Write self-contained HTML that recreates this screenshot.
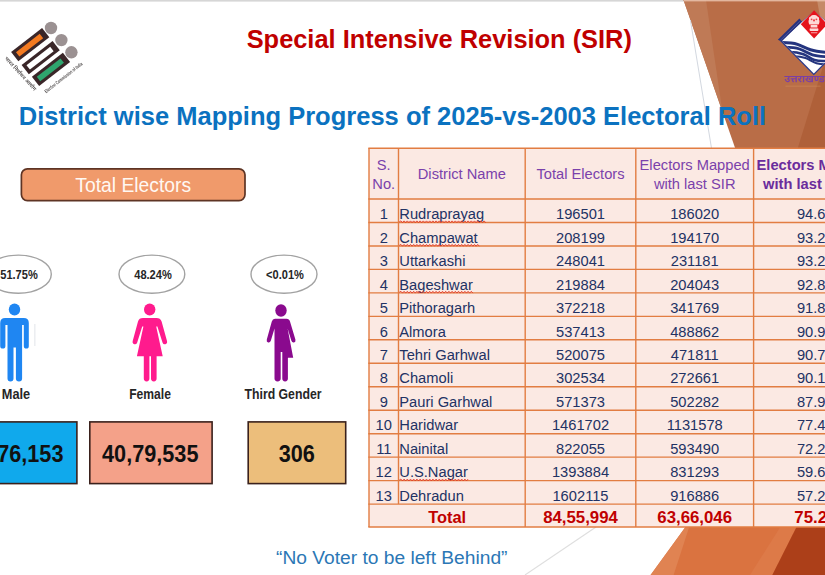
<!DOCTYPE html>
<html><head><meta charset="utf-8">
<style>
html,body{margin:0;padding:0;}
body{width:825px;height:575px;overflow:hidden;background:#fff;position:relative;font-family:"Liberation Sans",sans-serif;}
.abs{position:absolute;}
#title{left:246.7px;top:24.3px;font-weight:bold;font-size:25.4px;color:#c00000;white-space:nowrap;line-height:30px;}
#sub{left:18.8px;top:101.2px;font-weight:bold;font-size:25.52px;color:#0b72c0;white-space:nowrap;line-height:30px;}
#te{left:20.6px;top:168px;width:225.2px;height:33.4px;color:#fff8f2;font-size:19.3px;text-align:center;line-height:36px;}
.oval{width:64.6px;height:37px;border:1.3px solid #999;border-radius:50%;background:#fff;}
.pct{font-size:12.5px;font-weight:bold;color:#262626;text-align:center;width:80px;line-height:14px;transform:scaleX(0.885);white-space:nowrap;}
.lab{font-size:14px;font-weight:bold;color:#262626;text-align:center;width:120px;line-height:16px;white-space:nowrap;}
.box{font-weight:bold;font-size:23.2px;color:#111;text-align:center;line-height:68.5px;height:64px;transform:scaleX(0.935);}
#foot{left:276px;top:545.5px;font-size:19.2px;color:#2b77b5;white-space:nowrap;line-height:24px;}
</style></head><body>
<svg id="bg" class="abs" style="left:0;top:0" width="825" height="575" viewBox="0 0 825 575">
  <rect x="0" y="0" width="825" height="1.6" fill="#d6d6d6"/>
  <!-- top-right brown -->
  <polygon points="683.5,0 825,0 825,150 735.8,150" fill="#b96d47"/>
  <polygon points="683.5,0 706,0 722.5,112" fill="#bf7a56"/>
  <polygon points="817,0 825,0 825,45" fill="#c58a68"/>
  <polygon points="825,60 825,150 797.2,150" fill="#af6039"/>
  <line x1="690.4" y1="20" x2="711.8" y2="150" stroke="#d3d8e0" stroke-width="1"/>
  <!-- bottom-right orange -->
  <polygon points="686.2,526 825,526 825,575 650.6,575" fill="#da7340"/>
  <polygon points="686.2,526 689.5,526 673.6,575 650.6,575" fill="#e08352"/>
  <polygon points="781,526 797,526 772.3,575 750,575" fill="#dd7a48"/>
  <polygon points="797,526 825,526 825,575 772.3,575" fill="#ac3f19"/>
  <line x1="596" y1="527" x2="525" y2="575" stroke="#dedede" stroke-width="1.1"/>
  <rect x="684" y="0" width="141" height="1.4" fill="#e9c3ae" opacity="0.85"/>
  <!-- shapes -->
  <rect x="21.4" y="168.8" width="223.6" height="31.8" rx="6" fill="#f09a6b" stroke="#5e3424" stroke-width="1.7"/>
  <g fill="#fff" stroke="#a2a2a2" stroke-width="1.4">
    <ellipse cx="18.4" cy="274.2" rx="32.9" ry="19.1"/>
    <ellipse cx="151.9" cy="274.2" rx="32.9" ry="19.1"/>
    <ellipse cx="284" cy="274.2" rx="33" ry="19.1"/>
  </g>
  <g stroke="#3a211c" stroke-width="1.6">
    <rect x="-46" y="421.9" width="122.9" height="61.7" fill="#10a9ec"/>
    <rect x="89.8" y="421.9" width="122.3" height="61.7" fill="#f4a189"/>
    <rect x="248.2" y="421.9" width="97.5" height="61.7" fill="#ecbe7b"/>
  </g>
</svg>

<!-- ECI logo -->
<svg class="abs" style="left:0;top:15px" width="100" height="90" viewBox="0 15 100 90" font-family="Liberation Sans, sans-serif">
  <g transform="rotate(-37.8 30.2 44.7)">
    <rect x="10.6" y="38.8" width="39.2" height="11.8" fill="#3a2628"/>
    <rect x="14.4" y="41.9" width="30" height="5.6" fill="#f47a20"/>
  </g>
  <g transform="rotate(-37.8 40.7 57.7)">
    <rect x="21.1" y="51.8" width="39.2" height="11.8" fill="#3a2628"/>
    <rect x="24.9" y="54.9" width="30" height="5.6" fill="#ffffff"/>
  </g>
  <g transform="rotate(-37.8 51 69.3)">
    <rect x="31.4" y="63.4" width="39.2" height="11.8" fill="#3a2628"/>
    <rect x="35.2" y="66.5" width="30" height="5.6" fill="#2fa56e"/>
  </g>
  <circle cx="51" cy="28" r="6.2" fill="#9b9192"/>
  <circle cx="61.4" cy="40.1" r="6.2" fill="#9b9192"/>
  <circle cx="71.4" cy="52.3" r="6.2" fill="#9b9192"/>
  <path transform="translate(7.9 55.6) rotate(47.6) scale(0.02608)" fill="#5e5a5a" d="M1,70 0,84 5,95 11,100 25,105 33,105 35,88 29,87 24,83 24,75 29,71 35,71 42,76 44,84 44,114 30,117 27,122 27,130 33,141 44,151 54,155 63,154 69,147 71,136 104,137 104,179 131,179 132,76 161,76 163,78 163,179 190,179 190,77 251,76 254,79 255,94 252,102 244,108 240,104 233,101 221,101 216,104 213,109 213,119 218,131 231,148 268,183 287,166 250,134 266,125 276,115 282,98 280,77 373,76 375,78 374,99 341,99 327,101 313,107 306,114 303,120 301,136 305,153 313,166 329,184 349,168 333,151 328,139 330,128 336,123 342,121 374,121 375,179 402,179 402,77 420,76 420,55 84,55 84,76 102,76 104,78 103,114 70,113 70,85 68,75 64,66 54,57 40,53 21,54 9,59ZM1686,55 1541,55 1533,32 1523,13 1516,6 1506,1 1487,0 1471,4 1478,25 1487,22 1497,22 1503,25 1510,34 1517,52 1516,55 1260,55 1260,76 1272,77 1272,105 1264,108 1247,109 1237,107 1243,100 1247,89 1246,74 1241,64 1228,55 1219,53 1203,53 1183,58 1177,62 1184,81 1202,75 1212,75 1219,79 1221,83 1219,92 1209,98 1195,100 1198,120 1217,117 1221,121 1225,131 1223,140 1218,145 1212,147 1206,147 1196,143 1185,131 1171,102 1151,113 1161,135 1171,150 1186,163 1205,169 1220,169 1235,164 1245,155 1248,149 1250,130 1271,128 1272,179 1299,179 1299,78 1301,76 1330,76 1331,179 1358,179 1358,78 1360,76 1399,76 1403,80 1406,88 1404,97 1394,104 1379,108 1383,124 1392,140 1403,150 1419,156 1436,157 1447,155 1457,150 1458,179 1485,179 1485,77 1515,76 1517,78 1517,179 1544,179 1544,77 1581,76 1583,78 1583,106 1573,108 1568,112 1567,124 1571,133 1581,144 1590,149 1600,150 1607,145 1610,135 1610,77 1639,76 1640,179 1667,179 1667,78 1669,76 1686,76ZM1457,76 1458,123 1448,131 1438,135 1424,135 1416,131 1409,121 1423,114 1429,108 1432,101 1433,93 1428,77ZM470,55 470,76 484,76 486,78 486,179 513,179 514,76 607,76 609,78 608,105 547,105 540,107 535,115 536,124 541,134 553,145 560,148 570,148 576,143 579,127 608,127 609,179 636,179 637,76 729,77 729,127 722,134 710,139 698,139 691,136 686,129 686,122 693,114 699,112 720,113 722,92 698,90 679,94 665,104 659,120 659,131 663,143 671,152 680,157 689,160 707,161 718,159 728,154 729,179 756,179 756,78 758,76 788,77 788,179 815,179 815,78 817,76 925,76 927,78 927,126 913,138 907,140 896,140 891,138 885,131 885,123 890,116 896,113 911,113 913,91 839,91 839,113 864,114 858,125 859,140 864,149 876,158 885,161 903,162 918,159 926,155 927,179 953,179 953,78 955,76 1048,76 1050,78 1049,105 988,105 981,107 978,110 977,123 984,136 990,142 1001,148 1011,148 1017,143 1020,127 1049,127 1050,179 1077,179 1077,77 1095,76 1095,55 810,55 800,41 799,32 802,25 807,21 820,20 827,22 831,5 818,1 800,1 792,3 784,7 776,16 774,22 774,37 779,48 784,54 783,55 631,55 612,33 587,15 560,4 538,0 512,1 492,9 484,17 480,26 480,43 485,54ZM507,35 513,27 521,23 551,23 577,33 591,43 602,54 512,55 507,47Z"/>
  <path transform="translate(46.4 93.2) rotate(-38) scale(0.01668 0.02502) translate(0 -147.0)" fill="#4e4a4a" d="M2634,39 2634,144 2661,144 2661,39ZM1735,39 1735,144 1761,144 1761,39ZM1457,39 1457,144 1483,144 1483,39ZM479,39 479,144 505,144 505,39ZM2700,45 2691,55 2687,68 2714,69 2717,60 2722,55 2735,54 2740,56 2745,63 2746,80 2714,81 2694,88 2687,95 2682,108 2682,121 2686,133 2694,141 2707,146 2720,146 2736,140 2749,125 2752,136 2761,144 2779,145 2787,143 2787,129 2778,129 2773,121 2773,72 2772,64 2767,52 2758,43 2740,37 2717,38ZM2745,95 2746,107 2744,113 2735,124 2729,127 2721,128 2716,126 2711,121 2709,112 2710,106 2716,98 2728,95ZM2472,43 2465,39 2455,37 2437,39 2425,47 2417,60 2415,39 2389,39 2390,144 2417,144 2417,79 2423,65 2434,57 2444,57 2449,59 2457,70 2459,82 2459,144 2485,144 2485,70 2482,57ZM2129,37 2107,44 2093,57 2085,77 2084,99 2090,121 2097,131 2104,137 2123,145 2144,146 2154,144 2168,138 2183,122 2189,104 2189,78 2182,58 2171,46 2156,39ZM2132,55 2142,55 2151,59 2159,70 2162,83 2162,99 2159,113 2152,123 2142,128 2130,128 2124,125 2118,119 2112,101 2112,82 2115,70 2123,59ZM1993,42 1978,37 1959,39 1952,43 1944,51 1939,60 1937,39 1912,39 1912,144 1939,144 1940,76 1946,64 1957,57 1966,57 1971,59 1979,69 1981,78 1981,144 2007,144 2007,68 2002,52ZM1829,37 1807,44 1793,57 1785,77 1784,99 1790,121 1797,131 1804,137 1823,145 1844,146 1854,144 1868,138 1883,122 1889,104 1889,78 1882,58 1871,46 1856,39ZM1832,55 1842,55 1851,59 1859,70 1862,83 1862,99 1859,113 1852,123 1842,128 1830,128 1824,125 1818,119 1812,101 1812,82 1815,70 1823,59ZM1637,42 1626,51 1621,62 1621,75 1624,83 1636,94 1647,98 1676,104 1682,107 1687,113 1687,120 1683,125 1676,128 1658,129 1647,126 1641,119 1640,115 1617,118 1621,129 1631,139 1640,143 1655,146 1681,145 1699,138 1707,130 1711,121 1711,105 1707,97 1693,86 1651,75 1646,70 1645,63 1651,56 1669,54 1679,57 1684,62 1686,67 1709,65 1705,54 1695,44 1680,38 1656,37ZM1528,41 1515,51 1510,61 1510,77 1514,85 1527,95 1561,103 1571,107 1576,113 1576,119 1574,123 1568,127 1547,129 1536,126 1531,121 1529,115 1506,118 1508,126 1520,139 1537,145 1563,146 1584,140 1595,131 1599,124 1600,106 1597,99 1584,87 1538,74 1534,69 1534,62 1540,56 1558,54 1568,57 1572,61 1574,67 1597,65 1595,56 1584,44 1569,38 1544,37ZM1278,39 1279,144 1305,144 1306,77 1312,63 1321,57 1329,57 1334,60 1340,71 1341,144 1367,144 1368,77 1372,66 1376,61 1383,57 1391,57 1396,60 1402,71 1403,144 1429,144 1429,66 1423,49 1416,42 1403,37 1392,37 1385,39 1374,47 1366,60 1360,47 1352,40 1343,37 1331,37 1316,44 1306,59 1304,55 1303,39ZM1100,39 1101,144 1127,144 1128,77 1134,63 1143,57 1151,57 1156,60 1162,71 1163,144 1189,144 1190,77 1194,66 1198,61 1205,57 1213,57 1218,60 1224,71 1225,144 1251,144 1251,66 1245,49 1238,42 1225,37 1214,37 1207,39 1196,47 1188,60 1182,47 1174,40 1165,37 1153,37 1138,44 1128,59 1126,55 1125,39ZM1007,39 990,48 982,57 977,66 973,81 973,101 977,117 984,129 994,138 1002,142 1018,146 1033,146 1049,142 1061,135 1067,129 1075,115 1078,103 1078,80 1075,67 1068,54 1053,42 1033,37ZM1021,55 1031,55 1040,59 1046,66 1050,78 1051,94 1048,112 1045,118 1038,125 1031,128 1019,128 1013,125 1006,118 1001,102 1001,80 1004,69 1012,59ZM737,42 722,37 707,38 696,43 689,50 683,60 681,39 656,39 657,144 683,144 684,77 691,63 701,57 710,57 717,60 724,72 725,144 752,144 751,66 745,50ZM567,38 548,46 538,56 532,67 528,86 531,113 538,127 548,137 557,142 573,146 598,144 615,136 624,127 630,116 634,98 632,72 624,55 612,44 600,39 589,37ZM576,55 586,55 595,59 601,65 606,81 606,101 603,113 595,124 587,128 575,128 567,124 561,117 557,106 556,83 559,70 569,58ZM338,37 318,43 305,55 297,72 295,100 299,118 305,129 313,137 331,145 350,146 367,142 376,137 386,126 391,110 365,109 363,117 353,127 340,128 334,125 326,114 323,101 323,81 328,64 335,57 340,55 349,55 356,58 360,62 364,73 391,71 385,56 371,43 353,37ZM226,37 206,43 199,48 191,58 185,74 184,102 189,121 199,135 206,140 219,145 240,146 256,142 263,138 272,129 277,118 253,116 250,122 241,128 228,128 217,120 213,111 212,97 279,96 279,82 275,65 268,52 261,45 245,38ZM212,73 215,64 222,56 234,53 242,55 250,63 254,79 213,80ZM424,15 416,38 414,40 401,40 401,57 414,58 415,129 418,137 427,144 433,146 462,143 462,127 450,128 447,127 441,120 440,58 460,57 460,40 442,40 440,38 440,15ZM2334,7 2334,144 2362,144 2362,7ZM0,7 0,144 112,144 112,123 28,122 29,85 102,85 102,64 29,64 28,29 108,28 108,7ZM865,10 851,18 843,26 835,39 829,62 829,88 831,99 839,118 855,135 864,140 880,145 907,146 924,142 936,136 949,124 958,107 934,98 927,111 915,121 905,124 889,124 879,121 865,109 861,102 857,87 857,63 860,51 866,40 872,34 884,28 904,27 912,29 920,33 929,42 932,49 956,43 954,35 949,27 938,16 918,7 907,5 887,5ZM2634,0 2634,19 2661,19 2661,0ZM2605,0 2579,0 2578,55 2568,43 2556,38 2543,37 2533,39 2525,43 2513,57 2507,77 2507,106 2509,116 2515,130 2527,142 2539,146 2556,145 2569,139 2578,127 2581,144 2606,144ZM2552,55 2561,55 2569,59 2576,69 2579,80 2579,102 2574,118 2566,126 2561,128 2551,128 2545,125 2537,114 2534,101 2534,83 2537,69 2544,59ZM2264,1 2241,0 2228,4 2219,15 2217,39 2202,40 2202,57 2217,58 2217,144 2244,144 2244,58 2264,57 2264,40 2245,40 2244,25 2246,21 2251,18 2264,18ZM1735,0 1735,19 1761,19 1761,0ZM1457,0 1457,19 1483,19 1483,0ZM479,0 479,19 505,19 505,0ZM134,0 134,144 161,144 161,0Z"/>
</svg>

<!-- Uttarakhand logo -->
<svg class="abs" style="left:765px;top:0" width="60" height="95" viewBox="765 0 60 95" font-family="Liberation Sans, sans-serif">
  <defs><clipPath id="dm"><polygon points="781.4,40.6 814.1,11 846.8,40.6 813.8,73.5"/></clipPath></defs>
  <!-- thin outline -->
  <polygon points="779.6,40.6 814.1,11 848.6,40.6 813.8,75.2" fill="#2a3a8c"/>
  <polygon points="781.4,40.6 814.1,11 846.8,40.6 813.8,73.5" fill="#ffffff"/>
  <!-- thick band upper-left -->
  <polygon points="777.8,39.8 799.4,18.4 802,21.4 781.6,41.6" fill="#27327f"/>
  <line x1="780.6" y1="40.2" x2="800.6" y2="20.6" stroke="#6b74ad" stroke-width="0.5"/>
  <g clip-path="url(#dm)" fill="none" stroke="#25357f" stroke-linecap="butt">
    <path d="M779,42.6 C787,42.4 793,42.8 797.5,44.4 S806,48.4 810.5,49.8 S820,52 829,52.5" stroke-width="3.1"/>
    <path d="M782,47.2 C789,47 795,47.4 799.5,49 S808,53.4 812.5,54.8 S821,56.4 829,56.9" stroke-width="2.8"/>
    <path d="M787,52 C793,51.8 799,52.6 803.5,54.2 S810,58.6 814.5,60 S822,60.8 829,61.2" stroke-width="2.6"/>
    <path d="M792,56.3 C797,56.1 801.5,56.6 805.5,58 S812,62 816.5,63.2 S822,64.2 829,64.6" stroke-width="2.1"/>
  </g>
  <polygon points="800.8,24.2 814.1,10.2 827.4,24.2 814.1,38.4" fill="#e5131c"/>
  <g fill="#ffe9e6" opacity="0.93">
    <path d="M809.3,24.4 Q807.9,21.5 809,19.5 Q808.4,17 810.5,16.4 Q811.6,14.9 814,15 Q816.4,14.9 817.5,16.4 Q819.6,17 819,19.5 Q820.1,21.5 818.7,24.4 Z"/>
    <rect x="810.6" y="25" width="6.8" height="2.8" rx="0.6"/>
    <rect x="809.6" y="28.2" width="8.8" height="2.8" rx="0.9"/>
    <rect x="810.8" y="32.2" width="6.6" height="1" rx="0.4" opacity="0.75"/>
  </g>
  <g fill="#e5131c" opacity="0.75"><circle cx="811.6" cy="19.3" r="0.9"/><circle cx="816.4" cy="19.3" r="0.9"/><circle cx="814" cy="20.4" r="1.1"/><rect x="810.6" y="27.6" width="6.8" height="0.7"/></g>
  <path transform="translate(784.4 76) scale(0.05019)" fill="#7a3fa5" d="M0,0 0,21 69,21 74,26 76,31 75,41 67,47 50,50 53,70 65,70 72,68 81,80 81,92 74,100 62,102 52,98 43,89 38,81 27,54 5,64 18,93 27,106 40,117 62,124 74,124 90,120 103,110 107,102 109,91 108,82 102,68 94,59 103,42 103,31 99,23 100,21 219,21 221,23 220,44 124,44 124,66 149,66 147,72 147,85 150,96 158,110 174,128 194,113 178,95 174,86 174,78 176,73 180,69 188,66 220,66 221,124 248,124 249,21 309,21 312,24 312,43 304,53 291,46 279,46 274,49 271,54 271,64 276,76 289,93 326,128 345,111 308,79 324,70 334,60 340,43 338,26 339,21 366,21 368,23 368,124 395,124 396,21 448,21 450,23 452,37 449,50 447,52 437,46 428,46 423,48 418,55 418,66 420,73 431,91 451,109 466,117 495,124 524,123 542,117 543,124 570,124 571,21 598,21 600,23 600,68 604,82 615,94 634,100 646,100 661,97 670,92 676,85 681,68 681,23 683,21 759,21 761,23 760,34 733,34 721,37 714,41 709,48 708,63 713,73 732,88 743,85 764,86 769,92 767,100 756,105 739,104 719,96 704,85 692,104 705,113 729,123 740,125 769,124 783,119 792,110 796,100 796,87 794,81 787,72 773,66 756,65 739,68 735,64 735,56 741,52 787,52 787,23 789,21 806,21 806,0ZM628,21 654,22 654,66 652,72 645,78 633,77 627,68 626,23ZM477,21 541,21 543,23 543,65 538,69 523,72 516,70 511,64 511,58 516,52 523,50 535,50 536,33 534,32 512,32 498,37 491,43 487,52 486,60 487,68 491,77 501,86 513,90 532,90 542,87 542,96 528,101 512,103 487,101 465,92 450,78 465,69 471,63 476,54 479,39 476,24Z"/>
  <rect x="785.5" y="85.7" width="35" height="0.9" fill="#d58f5e" opacity="0.55"/>
</svg>

<div id="title" class="abs">Special Intensive Revision (SIR)</div>
<div id="sub" class="abs">District wise Mapping Progress of 2025-vs-2003 Electoral Roll</div>
<div id="te" class="abs">Total Electors</div>

<div class="abs pct" style="left:-21.5px;top:268px;">51.75%</div>
<div class="abs pct" style="left:112.8px;top:268px;">48.24%</div>
<div class="abs pct" style="left:244.8px;top:268px;">&lt;0.01%</div>

<!-- person icons -->
<svg class="abs" style="left:0;top:300px" width="320" height="85" viewBox="0 300 320 85">
  <!-- male -->
  <g fill="#1f86f2">
    <ellipse cx="14.5" cy="309.6" rx="5.7" ry="6"/>
    <path d="M5.2,318 H23.8 Q28.8,318 28.8,323 V346 Q28.8,348.6 26.3,348.6 Q23.8,348.6 23.8,346 V325 H22.1 V378.5 Q22.1,381.4 19,381.4 Q15.9,381.4 15.9,378.5 V347.6 H13.5 V378.5 Q13.5,381.4 10.5,381.4 Q7.5,381.4 7.5,378.5 V325 H5.4 V346 Q5.4,348.6 2.8,348.6 Q0.2,348.6 0.2,346 V323 Q0.2,318 5.2,318 Z"/>
  </g>
  <rect x="34.5" y="324" width="0.8" height="22" fill="#d9dde3"/>
  <!-- female -->
  <g fill="#ff1b8d">
    <ellipse cx="149.7" cy="309.6" rx="5.7" ry="6"/>
    <path d="M143,318 H156.4 Q160.4,318 161.6,321.4 L167,341 Q167.6,343.6 165.4,344.2 Q163.3,344.7 162.5,342.4 L157.4,326.6 L156.2,326.6 L162.7,356.3 H156.6 V378.6 Q156.6,381.4 153.8,381.4 Q151,381.4 151,378.6 V356.3 H149.4 V378.6 Q149.4,381.4 146.6,381.4 Q143.8,381.4 143.8,378.6 V356.3 H136.9 L143.4,326.6 L142.2,326.6 L137.2,342.4 Q136.4,344.7 134.3,344.2 Q132.1,343.6 132.7,341 L138,321.4 Q139,318 143,318 Z"/>
  </g>
  <!-- third gender -->
  <g fill="#8a0a8e">
    <ellipse cx="281" cy="310.5" rx="5.7" ry="6.2"/>
    <path d="M275,318.7 H286.5 Q289.2,318.7 290,321.5 L295.4,339.4 Q296,341.8 294.1,342.4 Q292.2,342.9 291.4,340.8 L287.6,328.5 L293.2,357.7 H287.9 V378.6 Q287.9,381.4 285.1,381.4 Q282.3,381.4 282.3,378.6 V352 H280.7 V378.6 Q280.7,381.4 277.6,381.4 Q274.5,381.4 274.5,378.6 V328.5 L270.8,340.8 Q270,342.9 268.1,342.4 Q266.2,341.8 266.8,339.4 L271.8,321.5 Q272.6,318.7 275,318.7 Z"/>
  </g>
</svg>

<div class="abs lab" style="left:-43.6px;top:386.2px;transform:scaleX(0.91);">Male</div>
<div class="abs lab" style="left:89.9px;top:386.2px;transform:scaleX(0.865);">Female</div>
<div class="abs lab" style="left:223px;top:386.2px;transform:scaleX(0.876);">Third Gender</div>

<div class="abs box" style="left:-46.8px;top:420.4px;width:124.5px;">43,76,153</div>
<div class="abs box" style="left:88.2px;top:420.4px;width:124.5px;">40,79,535</div>
<div class="abs box" style="left:247.2px;top:420.4px;width:99.5px;">306</div>

<div id="foot" class="abs">“No Voter to be left Behind”</div>

<svg id="tbl" class="abs" style="left:0;top:0" width="825" height="575" viewBox="0 0 825 575" font-family="Liberation Sans, sans-serif">
<rect x="369.0" y="148.3" width="508.0" height="378.7" fill="#fbe9e3"/>
<line x1="368.3" y1="148.30" x2="830" y2="148.30" stroke="#e27d42" stroke-width="1.4"/>
<line x1="368.3" y1="199.00" x2="830" y2="199.00" stroke="#e27d42" stroke-width="1.4"/>
<line x1="368.3" y1="222.47" x2="830" y2="222.47" stroke="#e27d42" stroke-width="1.4"/>
<line x1="368.3" y1="245.94" x2="830" y2="245.94" stroke="#e27d42" stroke-width="1.4"/>
<line x1="368.3" y1="269.41" x2="830" y2="269.41" stroke="#e27d42" stroke-width="1.4"/>
<line x1="368.3" y1="292.88" x2="830" y2="292.88" stroke="#e27d42" stroke-width="1.4"/>
<line x1="368.3" y1="316.35" x2="830" y2="316.35" stroke="#e27d42" stroke-width="1.4"/>
<line x1="368.3" y1="339.82" x2="830" y2="339.82" stroke="#e27d42" stroke-width="1.4"/>
<line x1="368.3" y1="363.29" x2="830" y2="363.29" stroke="#e27d42" stroke-width="1.4"/>
<line x1="368.3" y1="386.76" x2="830" y2="386.76" stroke="#e27d42" stroke-width="1.4"/>
<line x1="368.3" y1="410.23" x2="830" y2="410.23" stroke="#e27d42" stroke-width="1.4"/>
<line x1="368.3" y1="433.70" x2="830" y2="433.70" stroke="#e27d42" stroke-width="1.4"/>
<line x1="368.3" y1="457.17" x2="830" y2="457.17" stroke="#e27d42" stroke-width="1.4"/>
<line x1="368.3" y1="480.64" x2="830" y2="480.64" stroke="#e27d42" stroke-width="1.4"/>
<line x1="368.3" y1="504.11" x2="830" y2="504.11" stroke="#e27d42" stroke-width="1.4"/>
<line x1="368.3" y1="527.00" x2="830" y2="527.00" stroke="#e27d42" stroke-width="1.4"/>
<line x1="369.0" y1="148.3" x2="369.0" y2="527.00" stroke="#e27d42" stroke-width="1.4"/>
<line x1="398.5" y1="148.3" x2="398.5" y2="504.11" stroke="#e27d42" stroke-width="1.4"/>
<line x1="525.2" y1="148.3" x2="525.2" y2="527.00" stroke="#e27d42" stroke-width="1.4"/>
<line x1="635.8" y1="148.3" x2="635.8" y2="527.00" stroke="#e27d42" stroke-width="1.4"/>
<line x1="753.6" y1="148.3" x2="753.6" y2="527.00" stroke="#e27d42" stroke-width="1.4"/>
<g font-size="14.7" fill="#7a41ab" text-anchor="middle">
<text x="383.75" y="169.8">S.</text><text x="383.75" y="188.6">No.</text>
<text x="461.85" y="179.4">District Name</text>
<text x="580.5" y="179.4">Total Electors</text>
<text x="694.7" y="170.3">Electors Mapped</text><text x="694.7" y="188.5">with last SIR</text>
<text x="815.3" y="170.3" font-weight="bold" fill="#6a2c9c">Electors Mapped</text><text x="815.3" y="188.5" font-weight="bold" fill="#6a2c9c">with last SIR %</text>
</g>
<g font-size="14.7" fill="#223263">
<text x="383.75" y="219.20" text-anchor="middle">1</text>
<text x="399.3" y="219.20" id="n0">Rudraprayag</text>
<text x="580.5" y="219.20" text-anchor="middle">196501</text>
<text x="694.7" y="219.20" text-anchor="middle">186020</text>
<text x="815.3" y="219.20" text-anchor="middle">94.67</text>
<text x="383.75" y="242.67" text-anchor="middle">2</text>
<text x="399.3" y="242.67" id="n1">Champawat</text>
<text x="580.5" y="242.67" text-anchor="middle">208199</text>
<text x="694.7" y="242.67" text-anchor="middle">194170</text>
<text x="815.3" y="242.67" text-anchor="middle">93.26</text>
<text x="383.75" y="266.14" text-anchor="middle">3</text>
<text x="399.3" y="266.14" id="n2">Uttarkashi</text>
<text x="580.5" y="266.14" text-anchor="middle">248041</text>
<text x="694.7" y="266.14" text-anchor="middle">231181</text>
<text x="815.3" y="266.14" text-anchor="middle">93.20</text>
<text x="383.75" y="289.61" text-anchor="middle">4</text>
<text x="399.3" y="289.61" id="n3">Bageshwar</text>
<text x="580.5" y="289.61" text-anchor="middle">219884</text>
<text x="694.7" y="289.61" text-anchor="middle">204043</text>
<text x="815.3" y="289.61" text-anchor="middle">92.80</text>
<text x="383.75" y="313.08" text-anchor="middle">5</text>
<text x="399.3" y="313.08" id="n4">Pithoragarh</text>
<text x="580.5" y="313.08" text-anchor="middle">372218</text>
<text x="694.7" y="313.08" text-anchor="middle">341769</text>
<text x="815.3" y="313.08" text-anchor="middle">91.82</text>
<text x="383.75" y="336.55" text-anchor="middle">6</text>
<text x="399.3" y="336.55" id="n5">Almora</text>
<text x="580.5" y="336.55" text-anchor="middle">537413</text>
<text x="694.7" y="336.55" text-anchor="middle">488862</text>
<text x="815.3" y="336.55" text-anchor="middle">90.97</text>
<text x="383.75" y="360.02" text-anchor="middle">7</text>
<text x="399.3" y="360.02" id="n6">Tehri Garhwal</text>
<text x="580.5" y="360.02" text-anchor="middle">520075</text>
<text x="694.7" y="360.02" text-anchor="middle">471811</text>
<text x="815.3" y="360.02" text-anchor="middle">90.72</text>
<text x="383.75" y="383.49" text-anchor="middle">8</text>
<text x="399.3" y="383.49" id="n7">Chamoli</text>
<text x="580.5" y="383.49" text-anchor="middle">302534</text>
<text x="694.7" y="383.49" text-anchor="middle">272661</text>
<text x="815.3" y="383.49" text-anchor="middle">90.13</text>
<text x="383.75" y="406.96" text-anchor="middle">9</text>
<text x="399.3" y="406.96" id="n8">Pauri Garhwal</text>
<text x="580.5" y="406.96" text-anchor="middle">571373</text>
<text x="694.7" y="406.96" text-anchor="middle">502282</text>
<text x="815.3" y="406.96" text-anchor="middle">87.91</text>
<text x="383.75" y="430.43" text-anchor="middle">10</text>
<text x="399.3" y="430.43" id="n9">Haridwar</text>
<text x="580.5" y="430.43" text-anchor="middle">1461702</text>
<text x="694.7" y="430.43" text-anchor="middle">1131578</text>
<text x="815.3" y="430.43" text-anchor="middle">77.42</text>
<text x="383.75" y="453.90" text-anchor="middle">11</text>
<text x="399.3" y="453.90" id="n10">Nainital</text>
<text x="580.5" y="453.90" text-anchor="middle">822055</text>
<text x="694.7" y="453.90" text-anchor="middle">593490</text>
<text x="815.3" y="453.90" text-anchor="middle">72.20</text>
<text x="383.75" y="477.37" text-anchor="middle">12</text>
<text x="399.3" y="477.37" id="n11">U.S.Nagar</text>
<text x="580.5" y="477.37" text-anchor="middle">1393884</text>
<text x="694.7" y="477.37" text-anchor="middle">831293</text>
<text x="815.3" y="477.37" text-anchor="middle">59.64</text>
<text x="383.75" y="500.84" text-anchor="middle">13</text>
<text x="399.3" y="500.84" id="n12">Dehradun</text>
<text x="580.5" y="500.84" text-anchor="middle">1602115</text>
<text x="694.7" y="500.84" text-anchor="middle">916886</text>
<text x="815.3" y="500.84" text-anchor="middle">57.23</text>
</g>
<path d="M399.3,221.8 L400.9,220.9 L402.5,222.7 L404.1,220.9 L405.7,222.7 L407.3,220.9 L408.9,222.7 L410.5,220.9 L412.1,222.7 L413.7,220.9 L415.3,222.7 L416.9,220.9 L418.5,222.7 L420.1,220.9 L421.7,222.7 L423.3,220.9 L424.9,222.7 L426.5,220.9 L428.1,222.7 L429.7,220.9 L431.3,222.7 L432.9,220.9 L434.5,222.7 L436.1,220.9 L437.7,222.7 L439.3,220.9 L440.9,222.7 L442.5,220.9 L444.1,222.7 L445.7,220.9 L447.3,222.7 L448.9,220.9 L450.5,222.7 L452.1,220.9 L453.7,222.7 L455.3,220.9 L456.9,222.7 L458.5,220.9 L460.1,222.7 L461.7,220.9 L463.3,222.7 L464.9,220.9 L466.5,222.7 L468.1,220.9 L469.7,222.7 L471.3,220.9 L472.9,222.7 L474.5,220.9 L476.1,222.7 L477.7,220.9 L479.3,222.7 L480.9,220.9 L482.5,222.7 L484.1,220.9 L485.7,222.7" fill="none" stroke="#e23a2a" stroke-width="0.9"/>
<path d="M399.3,245.3 L400.9,244.4 L402.5,246.2 L404.1,244.4 L405.7,246.2 L407.3,244.4 L408.9,246.2 L410.5,244.4 L412.1,246.2 L413.7,244.4 L415.3,246.2 L416.9,244.4 L418.5,246.2 L420.1,244.4 L421.7,246.2 L423.3,244.4 L424.9,246.2 L426.5,244.4 L428.1,246.2 L429.7,244.4 L431.3,246.2 L432.9,244.4 L434.5,246.2 L436.1,244.4 L437.7,246.2 L439.3,244.4 L440.9,246.2 L442.5,244.4 L444.1,246.2 L445.7,244.4 L447.3,246.2 L448.9,244.4 L450.5,246.2 L452.1,244.4 L453.7,246.2 L455.3,244.4 L456.9,246.2 L458.5,244.4 L460.1,246.2 L461.7,244.4 L463.3,246.2 L464.9,244.4 L466.5,246.2 L468.1,244.4 L469.7,246.2 L471.3,244.4 L472.9,246.2 L474.5,244.4 L476.1,246.2 L477.7,244.4 L479.3,246.2" fill="none" stroke="#e23a2a" stroke-width="0.9"/>
<path d="M399.3,292.2 L400.9,291.3 L402.5,293.1 L404.1,291.3 L405.7,293.1 L407.3,291.3 L408.9,293.1 L410.5,291.3 L412.1,293.1 L413.7,291.3 L415.3,293.1 L416.9,291.3 L418.5,293.1 L420.1,291.3 L421.7,293.1 L423.3,291.3 L424.9,293.1 L426.5,291.3 L428.1,293.1 L429.7,291.3 L431.3,293.1 L432.9,291.3 L434.5,293.1 L436.1,291.3 L437.7,293.1 L439.3,291.3 L440.9,293.1 L442.5,291.3 L444.1,293.1 L445.7,291.3 L447.3,293.1 L448.9,291.3 L450.5,293.1 L452.1,291.3 L453.7,293.1 L455.3,291.3 L456.9,293.1 L458.5,291.3 L460.1,293.1 L461.7,291.3 L463.3,293.1 L464.9,291.3 L466.5,293.1 L468.1,291.3 L469.7,293.1 L471.3,291.3 L472.9,293.1" fill="none" stroke="#e23a2a" stroke-width="0.9"/>
<path d="M399.3,480.0 L400.9,479.1 L402.5,480.9 L404.1,479.1 L405.7,480.9 L407.3,479.1 L408.9,480.9 L410.5,479.1 L412.1,480.9 L413.7,479.1 L415.3,480.9 L416.9,479.1 L418.5,480.9 L420.1,479.1 L421.7,480.9 L423.3,479.1 L424.9,480.9 L426.5,479.1 L428.1,480.9 L429.7,479.1 L431.3,480.9 L432.9,479.1 L434.5,480.9 L436.1,479.1 L437.7,480.9 L439.3,479.1 L440.9,480.9 L442.5,479.1 L444.1,480.9 L445.7,479.1 L447.3,480.9 L448.9,479.1 L450.5,480.9 L452.1,479.1 L453.7,480.9 L455.3,479.1 L456.9,480.9 L458.5,479.1 L460.1,480.9 L461.7,479.1 L463.3,480.9 L464.9,479.1 L466.5,480.9 L468.1,479.1" fill="none" stroke="#e23a2a" stroke-width="0.9"/>
<g font-weight="bold" fill="#c00000" text-anchor="middle">
<text x="447.1" y="523" font-size="16.4">Total</text>
<text x="580.5" y="523" font-size="16.8">84,55,994</text>
<text x="694.7" y="523" font-size="16.8">63,66,046</text>
<text x="815.3" y="523" font-size="16.8">75.29</text>
</g></svg>
</body></html>
